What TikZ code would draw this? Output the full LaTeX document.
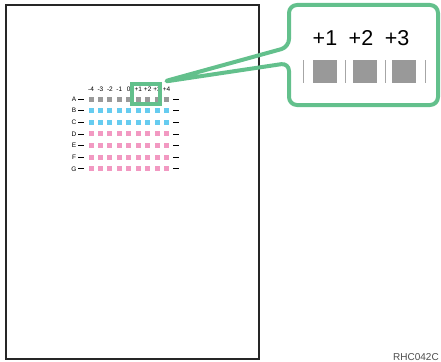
\documentclass[tikz,border=0pt]{standalone}
\usepackage{fontspec}
\setmainfont{Liberation Sans}

\definecolor{chipgray}{RGB}{153,153,153}
\definecolor{chipblue}{RGB}{102,204,240}
\definecolor{chippink}{RGB}{242,153,194}
\definecolor{zoomgreen}{RGB}{99,192,140}

\begin{document}
\begin{tikzpicture}[x=1pt, y=-1pt,
		chip/.style={minimum size=5pt, inner sep=0pt, outer sep=0pt},
		tinylabel/.style={font=\fontsize{6.5}{7}\selectfont, inner sep=0pt},
		biglabel/.style={font=\fontsize{21.5}{24}\selectfont, anchor=base},
		zoomline/.style={zoomgreen, line width=4pt, line join=round}]
			\useasboundingbox (0,0) rectangle (441,361);
			\clip (0,0) rectangle (441,361);
			
			% ========== 纸张 ==========
			\draw[line width=1.5pt, black!85] (6,5) rectangle (259,359);
			
			% ========== 测试图案 ==========
			\foreach \lbl [count=\k from 0] in {-4,-3,-2,-1,0,+1,+2,+3,+4}
				\node[tinylabel] (col\k) at (91+9.45*\k, 89) {\lbl};
			
			\foreach \row/\clr [count=\r from 0] in {A/chipgray,B/chipblue,C/chipblue,D/chippink,E/chippink,F/chippink,G/chippink} {
				\pgfmathsetmacro{\yy}{99+11.65*\r}
				\node[tinylabel] (lbl\row) at (74, \yy) {\row};
				\draw[line width=0.9pt] (78,\yy) -- (84,\yy);
				\draw[line width=0.9pt] (173,\yy) -- (179,\yy);
				\foreach \k in {0,...,8}
					\node[chip, fill=\clr] (\row\k) at (91+9.45*\k, \yy) {};
			}
			
			% ========== 放大框 ==========
			\node[draw=zoomgreen, line width=4pt, minimum width=28pt, minimum height=20pt, inner sep=0pt] (zoombox) at (146,94) {};
			
			\coordinate (tailtop) at (289,47);
			\coordinate (tailbot) at (289,63);
			\draw[zoomline, rounded corners=8pt] (zoombox.north east) -- (tailtop) -- (289,5) -- (438,5) -- (438,105) -- (289,105) -- (tailbot) -- cycle;
			
			\node[biglabel] (plusone) at (325,45.6) {+1};
			\node[biglabel] (plustwo) at (361,45.6) {+2};
			\node[biglabel] (plusthree) at (397,45.6) {+3};
			
			\node[chip, fill=chipgray, minimum width=24pt, minimum height=23pt] (bigone) at (325,71.5) {};
			\node[chip, fill=chipgray, minimum width=24pt, minimum height=23pt] (bigtwo) at (365,71.5) {};
			\node[chip, fill=chipgray, minimum width=24pt, minimum height=23pt] (bigthree) at (404,71.5) {};
			
			\foreach \xx in {303,345,385,425}
				\draw[black!35, line width=0.6pt] (\xx,60) -- (\xx,83);
			
			% ========== 图号 ==========
			\node[font=\fontsize{10}{12}\selectfont, anchor=base west, inner sep=0pt, black!70] (figid) at (393,360) {RHC042C};
		\end{tikzpicture}
\end{document}
